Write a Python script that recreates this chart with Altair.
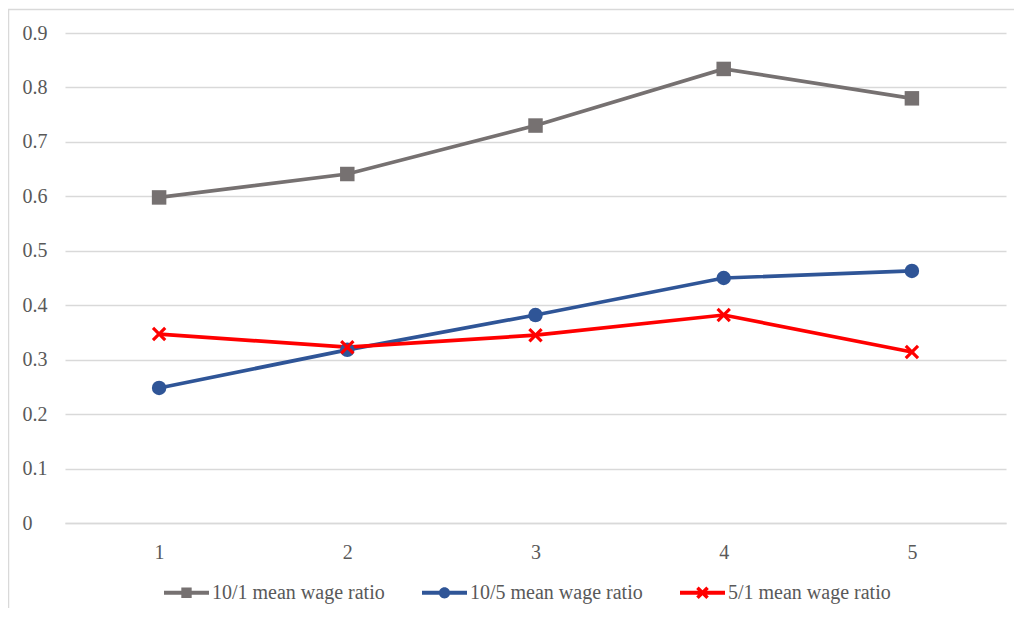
import altair as alt
import pandas as pd

periods = ["1", "2", "3", "4", "5"]
series_names = ["10/1 mean wage ratio", "10/5 mean wage ratio", "5/1 mean wage ratio"]
ratio_10_1 = [0.598, 0.641, 0.730, 0.834, 0.780]
ratio_10_5 = [0.248, 0.318, 0.382, 0.450, 0.463]
ratio_5_1 = [0.347, 0.323, 0.345, 0.382, 0.314]
y_ticks = [0, 0.1, 0.2, 0.3, 0.4, 0.5, 0.6, 0.7, 0.8, 0.9]
colors = ["#767171", "#2F5597", "#FF0000"]

rows = []
for name, vals in zip(series_names, [ratio_10_1, ratio_10_5, ratio_5_1]):
    for p, v in zip(periods, vals):
        rows.append({"period": p, "value": v, "series": name})
df = pd.DataFrame(rows)

X_PATH = "M-1,-0.69L-0.69,-1L0,-0.31L0.69,-1L1,-0.69L0.31,0L1,0.69L0.69,1L0,0.31L-0.69,1L-1,0.69L-0.31,0Z"
LINE = "M-1,-0.09H1V0.09H-1Z"
LEG_SQUARE = LINE + "M-0.23,-0.23H0.23V0.23H-0.23Z"
LEG_CIRCLE = LINE + "M0.25,0A0.25,0.25 0 1,1 -0.25,0A0.25,0.25 0 1,1 0.25,0Z"
LEG_X = LINE + ("M-0.28,-0.17L-0.17,-0.28L0,-0.11L0.17,-0.28L0.28,-0.17L0.11,0"
                "L0.28,0.17L0.17,0.28L0,0.11L-0.17,0.28L-0.28,0.17L-0.11,0Z")

FONT = "Liberation Serif"
TXT = "#595959"
GRID = "#d9d9d9"

x_enc = alt.X("period:N", sort=periods, scale=alt.Scale(type="point", padding=0.5),
              axis=alt.Axis(title=None, labelAngle=0, ticks=False, grid=False,
                            domainColor=GRID, domainWidth=1.5,
                            labelFont=FONT, labelFontSize=20, labelColor=TXT,
                            labelPadding=19))
y_enc = alt.Y("value:Q", scale=alt.Scale(domain=[0, 0.9], nice=False, zero=True),
              axis=alt.Axis(title=None, values=y_ticks, ticks=False, domain=False,
                            gridColor=GRID, gridWidth=1.5,
                            labelAlign="left", labelPadding=43,
                            labelFont=FONT, labelFontSize=20, labelColor=TXT,
                            labelExpr="datum.value == 0 ? '0' : format(datum.value, '.1f')"))
color_scale = alt.Scale(domain=series_names, range=colors)

base = alt.Chart(df)

lines = base.mark_line(strokeWidth=3.7).encode(
    x=x_enc, y=y_enc,
    color=alt.Color("series:N", scale=color_scale, legend=None),
)

points = base.mark_point(filled=True, opacity=1).encode(
    x=x_enc, y=y_enc,
    color=alt.Color("series:N", scale=color_scale, legend=None),
    shape=alt.Shape("series:N", scale=alt.Scale(domain=series_names, range=["square", "circle", X_PATH]), legend=None),
    size=alt.Size("series:N", scale=alt.Scale(domain=series_names, range=[210, 210, 300]), legend=None),
)

legend_props = dict(
    orient="none", legendX=99, legendY=537, direction="horizontal", title=None,
    symbolSize=2025, symbolStrokeWidth=0, labelFont=FONT, labelFontSize=20,
    labelColor=TXT, labelOffset=3, columnPadding=37, padding=0, labelLimit=400,
)
legend_layer = base.transform_filter("false").mark_point(filled=True, opacity=1).encode(
    x=x_enc, y=y_enc,
    color=alt.Color("series:N", scale=color_scale, legend=alt.Legend(**legend_props)),
    shape=alt.Shape("series:N", scale=alt.Scale(domain=series_names, range=[LEG_SQUARE, LEG_CIRCLE, LEG_X]),
                    legend=alt.Legend(**legend_props)),
)

border = alt.Chart(pd.DataFrame({"a": [0]})).mark_rect(
    fillOpacity=0, stroke=GRID, strokeWidth=1.5
).encode(x=alt.value(-56.5), x2=alt.value(990), y=alt.value(-23.5), y2=alt.value(620))

chart = alt.layer(border, lines, points, legend_layer).resolve_scale(
    color="independent", shape="independent", size="independent"
).properties(
    width=941, height=490,
    autosize=alt.AutoSizeParams(type="none"),
    padding={"left": 57, "top": 25, "right": 8, "bottom": 85},
).configure_view(stroke=None)

chart.save("out.html", embed_options={"renderer": "svg", "actions": False})
